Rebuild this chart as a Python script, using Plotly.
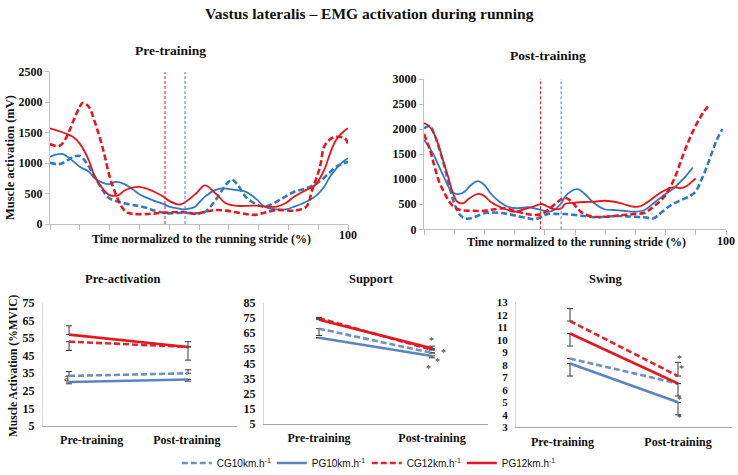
import plotly.graph_objects as go

W, H = 738, 475
SERIF = "Liberation Serif"
SANS = "Liberation Sans"

# ---------------- DATA ----------------
series_names = ["CG10km.h<sup>-1</sup>", "PG10km.h<sup>-1</sup>", "CG12km.h<sup>-1</sup>", "PG12km.h<sup>-1</sup>"]

# Pre-training EMG curves (% stride, mV)
pre_cg10_x = [0, 3, 5, 8, 10, 12, 15, 18, 20, 23, 25, 28, 30, 33, 35, 38, 40, 45, 48.7, 52, 55.6, 59, 61, 63, 65.6, 69, 72, 76, 79, 82, 86, 89.6, 93, 96, 100]
pre_cg10_y = [1005, 980, 1020, 1105, 1115, 1020, 780, 530, 420, 365, 340, 310, 295, 255, 220, 185, 175, 185, 175, 200, 395, 640, 730, 640, 450, 330, 285, 365, 450, 530, 585, 670, 805, 940, 1020]
pre_pg10_x = [0, 4, 8, 10, 13, 15, 18, 20, 22, 25, 28, 30, 33, 35, 38, 40, 43, 45, 47, 48.7, 52, 55.6, 57.8, 62, 65.6, 69, 72, 76, 79, 82, 86, 89.6, 92, 94, 97.8, 100]
pre_pg10_y = [1105, 1150, 1020, 940, 860, 750, 670, 655, 690, 655, 560, 490, 420, 380, 330, 285, 255, 240, 255, 285, 450, 560, 585, 560, 530, 420, 285, 240, 240, 285, 365, 475, 610, 780, 1000, 1080]
pre_cg12_x = [0, 3, 5, 8, 10, 11, 13, 15, 18, 20, 22, 24, 26, 28, 33, 38, 45, 48.7, 52, 55.6, 59, 65.6, 69, 72, 76, 82, 86, 88, 90.6, 92, 94, 96, 99, 100]
pre_cg12_y = [1313, 1280, 1380, 1710, 1925, 1990, 1925, 1680, 1190, 780, 500, 285, 185, 165, 165, 185, 195, 165, 200, 230, 220, 165, 150, 185, 230, 220, 285, 560, 940, 1270, 1390, 1430, 1405, 1320]
pre_pg12_x = [0, 5, 8, 10, 13, 15, 18, 20, 23, 25, 28, 30, 33, 35, 38, 40, 43.6, 47, 49, 52, 55.6, 59, 62, 69, 76, 79, 82, 86, 89, 92, 94, 96, 99, 100]
pre_pg12_y = [1570, 1490, 1420, 1320, 1050, 780, 560, 475, 475, 550, 600, 610, 570, 530, 450, 380, 320, 420, 500, 635, 500, 340, 300, 300, 285, 340, 450, 560, 640, 885, 1160, 1380, 1540, 1570]

# Post-training EMG curves
post_cg10_x = [0, 2, 3.5, 5, 6.8, 8.4, 10, 11.7, 13.4, 15.6, 18.4, 21, 24.6, 27.8, 31, 34.5, 36.6, 39, 41, 44.6, 46.7, 50, 53, 56.4, 59.7, 63, 66, 69.6, 73, 76, 78.5, 81.5, 85, 88, 90, 92.3, 94.5, 96.7, 98.8]
post_cg10_y = [2015, 2060, 1880, 1615, 1250, 850, 520, 305, 220, 220, 285, 330, 330, 305, 265, 220, 200, 250, 305, 305, 305, 285, 265, 240, 250, 265, 265, 250, 240, 220, 330, 470, 580, 660, 760, 1050, 1385, 1750, 2000]
post_pg10_x = [0, 2, 3.5, 5, 6.8, 8.4, 10, 11.7, 13.4, 15.6, 17.8, 20, 22, 25, 27.8, 31, 34.5, 38, 41, 43, 45.5, 46.7, 49, 51, 53, 56.4, 59.7, 63, 66, 69.6, 73, 76, 79.5, 82.7, 86, 89]
post_pg10_y = [1780, 1615, 1450, 1250, 1020, 820, 720, 705, 750, 885, 960, 885, 720, 550, 450, 420, 440, 400, 350, 385, 520, 650, 770, 800, 720, 520, 400, 385, 370, 350, 385, 520, 685, 820, 1015, 1235]
post_cg12_x = [0, 2, 3.5, 5, 6.8, 8.4, 10, 12, 15.6, 20, 23.4, 26.7, 30, 33, 36.6, 39, 41, 43, 45.5, 46.7, 49, 51, 53, 56.4, 59.7, 63, 66, 69.6, 73, 76, 79.5, 82.7, 86, 89, 92.3, 94]
post_cg12_y = [1900, 1580, 1250, 950, 720, 550, 440, 385, 370, 370, 400, 420, 370, 320, 285, 305, 385, 485, 600, 630, 550, 400, 305, 250, 250, 265, 285, 305, 330, 450, 650, 985, 1515, 1950, 2315, 2450]
post_pg12_x = [0, 1.3, 3, 4.6, 6.3, 8, 9.6, 11, 13, 14.6, 16.8, 18.4, 20, 22, 25, 27.8, 30, 33, 36, 39, 41, 43, 45.5, 46.7, 50, 53, 56.4, 59.7, 63, 66, 69.6, 71.8, 75, 78, 80.5, 82.7, 85, 87, 88.7, 90]
post_pg12_y = [2115, 2080, 1950, 1715, 1380, 1050, 720, 550, 520, 600, 685, 705, 665, 550, 450, 385, 350, 400, 450, 505, 450, 400, 420, 505, 530, 545, 550, 570, 550, 505, 450, 465, 585, 720, 800, 840, 820, 865, 950, 1015]

# Stance-to-swing transition markers (% stride): 12 km/h (red), 10 km/h (blue)
pre_transition = [38.6, 45.3]
post_transition = [38.6, 45.4]

# Bottom panels: categories and mean values (order CG10, PG10, CG12, PG12)
periods = ["Pre-training", "Post-training"]
preact_vals = [[33.5, 35], [30, 31.5], [53, 50], [57, 50]]
preact_err_plus = [[2.5, 2], [0, 0], [0, 0], [5, 3]]
preact_err_minus = [[0, 0], [1, 1], [5, 7.5], [0, 0]]
support_vals = [[68, 52], [62, 50], [75, 54], [74, 55]]
support_err_plus = [[0, 0], [0, 0], [0, 0], [1.5, 1.5]]
support_err_minus = [[4.5, 0], [0, 1.2], [0, 0], [0, 0]]
swing_vals = [[8.5, 6.5], [8.1, 5.0], [11.5, 7.1], [10.5, 6.5]]
swing_err_plus = [[0, 0], [0, 0], [1.0, 1.1], [0, 0]]
swing_err_minus = [[0, 0], [1.0, 1.0], [0, 0], [1.0, 1.0]]

# significance marks
preact_marks = [("a", -0.02, 33)]
support_marks = [("*", 1.0, 60.5), ("*", 1.1, 52), ("*", 1.05, 46.5), ("*", 0.965, 42)]
swing_marks = [("*", 1.01, 8.5), ("*", 1.03, 7.7), ("*", 1.01, 5.2), ("*", 1.01, 3.8)]

# ---------------- STYLE ----------------
top_colors = ["#2F7BC0", "#2F7BC0", "#E8161E", "#E8161E"]
bot_colors = ["#6E90C4", "#5A85BE", "#E3242B", "#E3191F"]
dashes = ["dash", "solid", "dash", "solid"]


def px_x(p):
    return p / W


def px_y(p):
    return 1 - p / H


fig = go.Figure()

top_sets = [
    ("x", "y", [(pre_cg10_x, pre_cg10_y), (pre_pg10_x, pre_pg10_y), (pre_cg12_x, pre_cg12_y), (pre_pg12_x, pre_pg12_y)], pre_transition, 2500),
    ("x2", "y2", [(post_cg10_x, post_cg10_y), (post_pg10_x, post_pg10_y), (post_cg12_x, post_cg12_y), (post_pg12_x, post_pg12_y)], post_transition, 3000),
]
for xa, ya, curves, trans, ymax in top_sets:
    for i, (cx, cy) in enumerate(curves):
        fig.add_trace(go.Scatter(
            x=cx, y=cy, xaxis=xa, yaxis=ya, mode="lines", showlegend=False,
            line=dict(color=top_colors[i], width=2.6 if dashes[i] == "dash" else 1.8,
                      dash="6px,3px" if dashes[i] == "dash" else "solid", shape="spline", smoothing=1.0),
            hoverinfo="skip"))
    for t, col in zip(trans, ["#E8161E", "#4A86C8"]):
        fig.add_trace(go.Scatter(
            x=[t, t], y=[0, ymax], xaxis=xa, yaxis=ya, mode="lines", showlegend=False,
            line=dict(color=col, width=1, dash="3px,2px"), hoverinfo="skip"))

bottom_sets = [
    ("x3", "y3", preact_vals, preact_err_plus, preact_err_minus),
    ("x4", "y4", support_vals, support_err_plus, support_err_minus),
    ("x5", "y5", swing_vals, swing_err_plus, swing_err_minus),
]
for k, (xa, ya, vals, ep, em) in enumerate(bottom_sets):
    for i in range(4):
        fig.add_trace(go.Scatter(
            x=[0, 1], y=vals[i], xaxis=xa, yaxis=ya, mode="lines",
            name=series_names[i], showlegend=(k == 2), legendrank=i,
            line=dict(color=bot_colors[i], width=2.6, dash="6px,3px" if dashes[i] == "dash" else "solid"),
            error_y=dict(type="data", symmetric=False, array=ep[i], arrayminus=em[i],
                         color="#3A3A3A", thickness=1, width=3),
            hoverinfo="skip"))

# ---------------- AXES ----------------
tick_font = dict(family=SERIF, size=12, color="#111111")

layout_axes = {}
top_axes = [
    ("", (50, 348), (224, 71.7), 2500),
    ("2", (424, 726), (229.3, 79), 3000),
]
for s, xp, yp, ymax in top_axes:
    layout_axes[f"xaxis{s}"] = dict(
        domain=[px_x(xp[0]), px_x(xp[1])], range=[0, 100], anchor=f"y{s}",
        tickvals=[100], ticktext=["<b>100</b>"], ticks="outside", ticklen=0, tickcolor="#BFBFBF",
        minor=dict(tick0=0, dtick=10, ticks="outside", ticklen=5, tickcolor="#BFBFBF", showgrid=False),
        showline=True, linecolor="#BFBFBF", showgrid=False, zeroline=False, tickfont=tick_font,
        automargin=False)
    layout_axes[f"yaxis{s}"] = dict(
        domain=[px_y(yp[0]), px_y(yp[1])], range=[0, ymax], anchor=f"x{s}", dtick=500,
        ticks="outside", ticklen=4, tickcolor="#BFBFBF", showline=True, linecolor="#BFBFBF",
        showgrid=False, zeroline=False, tickfont=tick_font, tickprefix="<b>", ticksuffix="</b>",
        automargin=False)

bottom_axes = [
    # (x px range, y px range, x range, y range, dtick, tick positions, tick font size)
    ((43, 237), (426, 303), [-0.219, 1.412], [5, 75], 10, [0.19, 0.99], 12),
    ((264, 488), (424, 303), [-0.487, 1.496], [5, 85], 10, [0.0, 1.0], 12),
    ((516, 732), (427.3, 302.3), [-0.5, 1.5], [3, 13], 1, [-0.07, 1.0], 11),
]
for n, (xp, yp, xr, yr, dt, tv, fs) in enumerate(bottom_axes, start=3):
    layout_axes[f"xaxis{n}"] = dict(
        domain=[px_x(xp[0]), px_x(xp[1])], range=xr, anchor=f"y{n}",
        tickvals=tv, ticktext=[f"<b>{p}</b>" for p in periods], ticks="outside", ticklen=3,
        tickcolor="rgba(0,0,0,0)", showline=True, linecolor="#A6A6A6", linewidth=1,
        showgrid=False, zeroline=False, tickfont=dict(family=SERIF, size=12, color="#111111"),
        automargin=False)
    layout_axes[f"yaxis{n}"] = dict(
        domain=[px_y(yp[0]), px_y(yp[1])], range=yr, anchor=f"x{n}", dtick=dt, tick0=yr[0],
        ticks="outside", ticklen=5, tickcolor="rgba(0,0,0,0)", showline=True, linecolor="#D9D9D9",
        showgrid=False, zeroline=False, tickfont=dict(family=SERIF, size=fs, color="#111111"),
        tickprefix="<b>", ticksuffix="</b>", automargin=False)

# ---------------- ANNOTATIONS ----------------
ann = []


def text(t, x, y, size, angle=0, family=SERIF):
    ann.append(dict(text=f"<b>{t}</b>", x=px_x(x), y=px_y(y), xref="paper", yref="paper",
                    showarrow=False, textangle=angle, xanchor="center", yanchor="middle",
                    font=dict(family=family, size=size, color="#111111")))


text("Vastus lateralis – EMG activation during running", 369, 13, 15.5)
text("Pre-training", 170, 50, 13.5)
text("Post-training", 548, 55, 13.5)
text("Pre-activation", 122, 279, 12.5)
text("Support", 371, 279, 12.5)
text("Swing", 605, 279, 12.5)
text("Time normalized to the running stride (%)", 201, 239, 12)
text("Time normalized to the running stride (%)", 576, 242, 12)
text("Muscle activation (mV)", 10, 158, 12.5, angle=-90)
text("Muscle Activation (%MVIC)", 13, 366, 11.5, angle=-90)

for n, marks in [(3, preact_marks), (4, support_marks), (5, swing_marks)]:
    for t, mx, my in marks:
        ann.append(dict(text=t, x=mx, y=my, xref=f"x{n}", yref=f"y{n}", showarrow=False,
                        font=dict(family=SERIF, size=10 if t == "*" else 11, color="#333333"),
                        xanchor="center", yanchor="middle"))

fig.update_layout(
    template="none",
    width=W, height=H, margin=dict(l=0, r=0, t=0, b=0, pad=0, autoexpand=False),
    paper_bgcolor="white", plot_bgcolor="white",
    annotations=ann,
    legend=dict(orientation="h", x=0.497, xanchor="center", y=px_y(463), yanchor="middle",
                font=dict(family=SANS, size=10, color="#111111"), entrywidth=50,
                itemwidth=30, bgcolor="rgba(0,0,0,0)", traceorder="normal"),
    **layout_axes,
)

fig.write_html("out.html", config={"displayModeBar": False},
               post_script="document.body.style.margin='0px';")
